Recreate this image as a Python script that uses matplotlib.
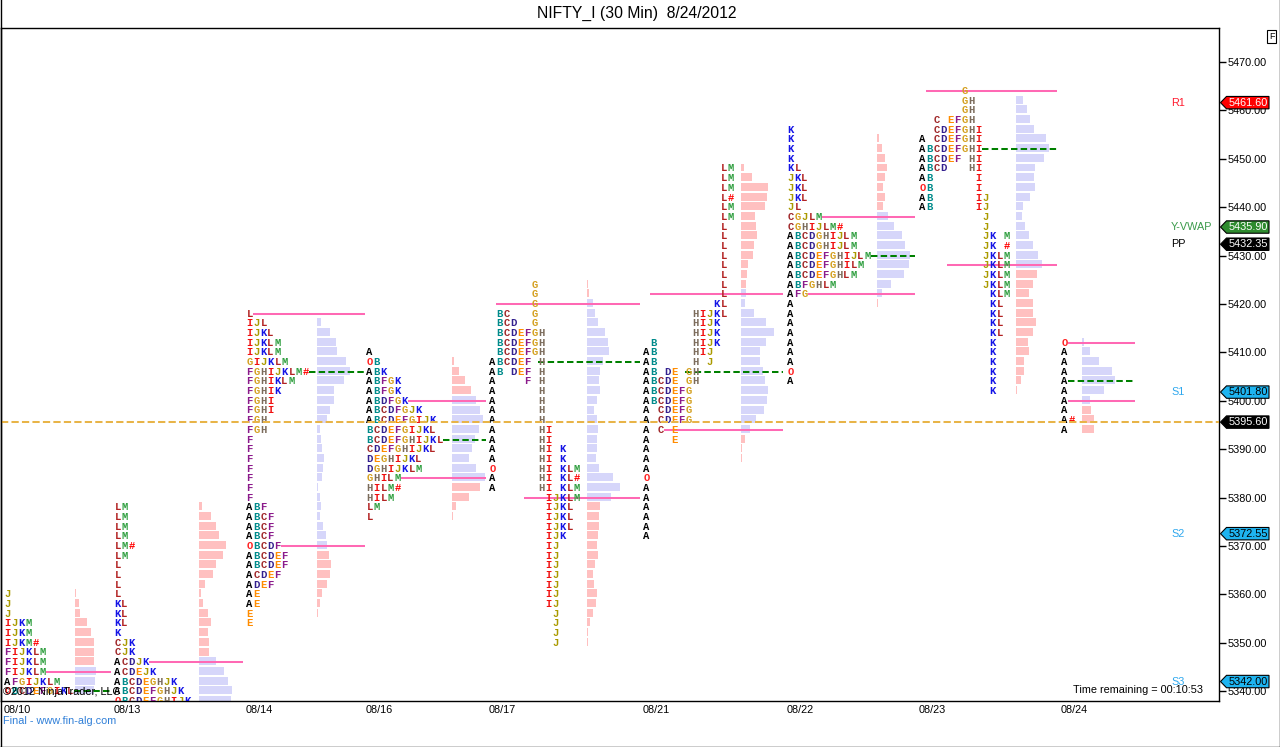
import matplotlib
matplotlib.use("Agg")
import matplotlib.pyplot as plt
from matplotlib.transforms import blended_transform_factory
from matplotlib.patches import Polygon
from matplotlib.lines import Line2D

# ---------------- data ----------------
dates = ["08/10", "08/13", "08/14", "08/16", "08/17", "08/21", "08/22", "08/23", "08/24"]
tick_size = 2
tpo_top = [5360, 5378, 5418, 5410, 5424, 5448, 5456, 5464, 5412]

tpo_0810 = ["J", "J", "J", "IJKM", "IJKM", "IJKM#", "FIJKLM", "FIJKLM", "FIJKLM",
            "AFGIJKLM", "OBCDEFGIKL"]
vol_0810 = [1, 4, 5, 12, 16, 19, 19, 19, 21, 20, 19]

tpo_0813 = ["LM", "LM", "LM", "LM", "LM#", "LM", "L", "L", "L", "L", "KL", "KL", "KL", "K",
            "CJK", "CJK", "ACDJK", "ACDEJK", "ABCDEGHJK", "ABCDEFGHJK", "OBCDEFGHIJK"]
vol_0813 = [3, 12, 17, 20, 27, 24, 17, 14, 6, 2, 4, 9, 12, 9, 10, 10, 17, 25, 29, 33, 32]

tpo_0814 = ["L", "IJL", "IJKL", "IJKLM", "IJKLM", "GIJKLM", "FGHIJKLM#", "FGHIKLM", "FGHIK",
            "FGHI", "FGHI", "FGH", "FGH", "F", "F", "F", "F", "F", "F", "F", "ABF", "ABCF",
            "ABCF", "ABCF", "OBCDF", "ABCDEF", "ABCDEF", "ACDEF", "ADEF", "AE", "AE", "E", "E"]
vol_0814 = [0, 4, 13, 19, 20, 29, 33, 27, 17, 17, 13, 10, 3, 4, 5, 7, 6, 5, 1, 3, 4, 3, 6, 9,
            10, 12, 14, 13, 10, 5, 3, 1, 0]

tpo_0816 = ["A", "OB", "ABK", "ABFGK", "ABFGK", "ABDFGK", "ABCDFGJK", "ABCDEFGIJK",
            "BCDEFGIJKL", "BCDEFGHIJKL", "CDEFGHIJKL", "DEGHIJKL", "DGHIJKLM", "GHILM",
            "HILM#", "HILM", "LM", "L"]
vol_0816 = [0, 2, 7, 13, 19, 24, 28, 31, 27, 23, 20, 17, 24, 33, 28, 17, 4, 1]

tpo_0817 = ["      G", "      G", "      G", " BC   G", " BCD  G", " BCDEFGH", " BCDEFGH",
            " BCDEFGH", "ABCDEF H", "AB DEF H", "A    F H", "A      H", "A      H",
            "A      H", "A      H", "A      HI", "A      HI", "A      HI K", "A      HI K",
            "O      HI KLM", "A      HI KL#", "A      HI KLM", "        IJKLM", "        IJKL",
            "        IJKL", "        IJKL", "        IJK", "        IJ", "        IJ",
            "        IJ", "        IJ", "        IJ", "        IJ", "        IJ",
            "         J", "         J", "         J", "         J"]
vol_0817 = [1, 2, 6, 8, 11, 18, 21, 22, 16, 13, 12, 13, 10, 7, 10, 11, 10, 10, 9, 12, 26, 33,
            24, 13, 12, 12, 11, 10, 11, 8, 6, 7, 10, 9, 6, 3, 1, 1]

tpo_0821 = ["           LM", "           LM", "           LM", "           L#", "           LM",
            "           LM", "           L", "           L", "           L", "           L",
            "           L", "           L", "           L", "           L", "          KL",
            "       HIJKL", "       HIJK", "       HIJK", " B     HIJK", "AB     HIJ",
            "AB     H J", "AB DE GH", "ABCDE GH", "ABCDEFG", "ABCDEFG", "A CDEFG", "A CDEFG",
            "A C E", "A   E", "A", "A", "A", "O", "A", "A", "A", "A", "A", "A"]
vol_0821 = [3, 11, 27, 26, 24, 14, 15, 16, 13, 12, 7, 6, 5, 5, 4, 13, 25, 33, 25, 19, 19, 22,
            24, 27, 26, 23, 15, 9, 4, 1, 1, 0, 0, 0, 0, 0, 0, 0, 0]

tpo_0822 = ["K", "K", "K", "K", "KL", "JKL", "JKL", "JKL", "JL", "CGJLM", "CGHIJLM#",
            "ABCDGHIJLM", "ABCDGHIJLM", "ABCDEFGHIJLM", "ABCDEFGHILM", "ABCDEFGHLM",
            "ABFGHLM", "AFG", "A", "A", "A", "A", "A", "A", "A", "O", "A"]
vol_0822 = [0, 2, 5, 8, 10, 8, 6, 8, 6, 11, 17, 25, 28, 33, 32, 27, 14, 5, 1,
            0, 0, 0, 0, 0, 0, 0, 0]

tpo_0823 = ["      G", "      GH", "      GH", "  C EFGH", "  CDEFGHI", "A CDEFGHI",
            "ABCDEFGHI", "ABCDEF HI", "ABCD   HI", "AB      I", "OB      I", "AB      IJ",
            "AB      IJ", "         J", "         J", "         JK M", "         JK #",
            "         JKLM", "         JKLM", "         JKLM", "         JKLM", "          KLM",
            "          KL", "          KL", "          KL", "          KL", "          K",
            "          K", "          K", "          K", "          K", "          K"]
vol_0823 = [0, 7, 11, 14, 18, 30, 33, 28, 19, 18, 19, 14, 7, 6, 9, 13, 17, 22, 26, 21, 17, 13,
            17, 17, 20, 17, 12, 13, 8, 8, 5, 1]

tpo_0824 = ["O", "A", "A", "A", "A", "A", "A", "A", "A#", "A"]
vol_0824 = [2, 8, 17, 30, 33, 22, 8, 9, 12, 12]

value_area_high = [5344, 5346, 5418, 5400, 5420, 5422, 5438, 5464, 5412]
value_area_low = [None, None, 5370, 5384, 5380, 5394, 5422, 5428, 5400]
point_of_control = [5340, None, 5406, 5392, 5408, 5406, 5430, 5452, 5404]

level_names = ["R1", "Y-VWAP", "PP", "S1", "S2", "S3"]
level_values = [5461.60, 5435.90, 5432.35, 5401.80, 5372.55, 5342.00]
last_price = 5395.60

tpo_rows = [tpo_0810, tpo_0813, tpo_0814, tpo_0816, tpo_0817, tpo_0821, tpo_0822, tpo_0823, tpo_0824]
vol_rows = [vol_0810, vol_0813, vol_0814, vol_0816, vol_0817, vol_0821, vol_0822, vol_0823, vol_0824]

# ---------------- layout / style ----------------
W, H = 1280, 747
AX_L, AX_R, AX_T, AX_B = 1, 1219, 28, 701
day_x0 = [4, 114, 246, 366, 489, 643, 787, 919, 1061]
day_hist_x = [75, 199, 317, 452, 587, 741, 877, 1016, 1082]
day_end = [111, 243, 365, 486, 640, 783, 915, 1057, 1135]
CW = 7.0  # px per letter column

letter_colors = {
    "A": "#000000", "B": "#008b8b", "C": "#a0282a", "D": "#33208f", "E": "#ff8c00",
    "F": "#8b1a8b", "G": "#d4a020", "H": "#7b6b5b", "I": "#f01010", "J": "#aa9a00",
    "K": "#1414e6", "L": "#b22222", "M": "#2e9e3e", "O": "#ff2020", "#": "#ff0000",
}
PINK_BAR = "#ffc0c0"
LAV_BAR = "#d6d6fa"
PINK_LINE = "#ff69b4"
GREEN_LINE = "#008000"
ORANGE_LINE = "#e8b448"
SANS = ["Liberation Sans", "DejaVu Sans"]

fig = plt.figure(figsize=(W / 100, H / 100), dpi=100)
ax = fig.add_axes([AX_L / W, 1 - AX_B / H, (AX_R - AX_L) / W, (AX_B - AX_T) / H])
ax.set_xlim(AX_L, AX_R)
ax.set_ylim(5337.98, 5477.02)
for s in ax.spines.values():
    s.set_color("black")
    s.set_linewidth(1)

LW = 1.45
for d in range(len(dates)):
    rows = tpo_rows[d]
    vols = vol_rows[d]
    top = tpo_top[d]
    prices = [top - tick_size * i for i in range(len(rows))]
    vah = value_area_high[d]
    val = value_area_low[d] if value_area_low[d] is not None else -1e9
    # volume histogram
    cols = [LAV_BAR if val <= p <= vah else PINK_BAR for p in prices]
    ax.barh([p + 0.2 for p in prices], vols, left=day_hist_x[d], height=1.65,
            color=cols, linewidth=0, zorder=1)
    # TPO letters
    for p, row in zip(prices, rows):
        for i, ch in enumerate(row):
            if ch == " ":
                continue
            ax.text(day_x0[d] + CW * i + CW / 2, p, ch, color=letter_colors[ch],
                    ha="center", va="center", fontsize=7.6, family="Liberation Mono",
                    weight="bold", zorder=3, clip_on=True)

    def row_len(level):
        for p, row in zip(prices, rows):
            if p == level:
                return len(row.replace(" ", ""))
        return 0

    for level, color, dashed in [(value_area_high[d], PINK_LINE, False),
                                 (value_area_low[d], PINK_LINE, False),
                                 (point_of_control[d], GREEN_LINE, True)]:
        if level is None:
            continue
        xs = day_x0[d] + CW * row_len(level)
        ln, = ax.plot([xs, day_end[d]], [level, level], color=color, lw=LW, zorder=2,
                      solid_capstyle="butt", dash_capstyle="butt")
        if dashed:
            ln.set_dashes((3.2, 1.6))

# last price dashed line
ol, = ax.plot([AX_L, AX_R], [last_price, last_price], color=ORANGE_LINE, lw=LW, zorder=5,
              dash_capstyle="butt")
ol.set_dashes((3.6, 1.6))

# level labels inside the chart
level_text_colors = ["#ff1a2e", "#3a9a4a", "#000000", "#2fa8ee", "#2fa8ee", "#2fa8ee"]
for name, v, c in zip(level_names, level_values, level_text_colors):
    ax.text(1171, v, name, color=c, fontsize=7.8, family=SANS, ha="left", va="center",
            zorder=6)

# axes ticks
ax.yaxis.tick_right()
yt = list(range(5340, 5471, 10))
ax.set_yticks(yt)
ax.set_yticklabels([f"{v:.2f}" for v in yt], fontsize=7.8, family=SANS)
ax.tick_params(axis="y", direction="out", length=5, width=1, pad=1, colors="black")
ax.set_xticks(day_x0)
ax.set_xticklabels(dates, fontsize=7.8, family=SANS)
for lab in ax.get_xticklabels():
    lab.set_horizontalalignment("left")
ax.tick_params(axis="x", length=0, pad=3)

# price boxes on the right axis
trans = blended_transform_factory(fig.transFigure, ax.transData)
hh = 6.2 * (5477.02 - 5337.98) / (AX_B - AX_T)
box_faces = ["#ff0000", "#2e8b2e", "#000000", "#1eb4f0", "#1eb4f0", "#1eb4f0"]
box_text = ["white", "white", "white", "black", "black", "black"]


def price_box(v, face, tcol):
    pts = [(1220.5 / W, v), (1226.5 / W, v + hh), (1269 / W, v + hh), (1269 / W, v - hh),
           (1226.5 / W, v - hh)]
    poly = Polygon(pts, closed=True, transform=trans, facecolor=face, edgecolor="black",
                   lw=0.8, clip_on=False, zorder=10)
    fig.add_artist(poly)
    fig.text(1248 / W, v, f"{v:.2f}", transform=trans, ha="center", va="center",
             fontsize=7.8, family=SANS, color=tcol, zorder=11)


for v, f, t in zip(level_values, box_faces, box_text):
    price_box(v, f, t)
price_box(last_price, "#000000", "white")

# texts
fig.text(637 / W, 1 - 13 / H, "NIFTY_I (30 Min)  8/24/2012", ha="center", va="center",
         fontsize=11.3, family=SANS)
fig.text(3 / W, 1 - 692 / H, "\u00a92012 NinjaTrader, LLC", ha="left", va="center",
         fontsize=7.8, family=SANS, zorder=12)
fig.text(3 / W, 1 - 721 / H, "Final - www.fin-alg.com", ha="left", va="center",
         fontsize=7.8, family=SANS, color="#2f7fd8")
fig.text(1203 / W, 1 - 690 / H, "Time remaining = 00:10:53", ha="right", va="center",
         fontsize=7.8, family=SANS, zorder=12)
fig.text(1271.5 / W, 1 - 36.5 / H, "F", ha="center", va="center", fontsize=6.5,
         family=SANS, bbox=dict(boxstyle="square,pad=0.2", fc="white", ec="black", lw=0.8))

# outer border
for (x1, y1, x2, y2) in [(0.5, 0, 0.5, H), (W - 0.5, 0, W - 0.5, H), (0, H - 0.5, W, H - 0.5)]:
    fig.add_artist(Line2D([x1 / W, x2 / W], [1 - y1 / H, 1 - y2 / H], color="black", lw=1,
                          transform=fig.transFigure))

fig.savefig("out.png", dpi=100, facecolor="white")
